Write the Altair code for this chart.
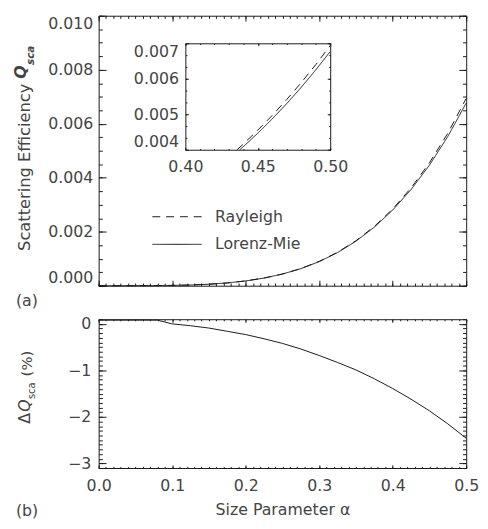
import altair as alt
import pandas as pd

# ---------------- data ----------------
alpha_main = [0.0, 0.025, 0.05, 0.075, 0.1, 0.125, 0.15, 0.175, 0.2, 0.225, 0.25,
              0.275, 0.3, 0.325, 0.35, 0.375, 0.4, 0.425, 0.45, 0.475, 0.5]
rayleigh_main = [0.0, 0.00000004, 0.0000007, 0.0000035, 0.0000111, 0.0000271, 0.0000562,
                 0.0001041, 0.0001776, 0.0002845, 0.0004336, 0.0006348, 0.0008991,
                 0.0012384, 0.0016654, 0.0021950, 0.0028416, 0.0036214, 0.0045517,
                 0.0056507, 0.0069375]
mie_main = [0.0, 0.00000004, 0.0000007, 0.0000035, 0.0000111, 0.0000271, 0.0000561,
            0.0001039, 0.0001772, 0.0002836, 0.0004318, 0.0006314, 0.0008929,
            0.0012280, 0.0016489, 0.0021691, 0.0028024, 0.0035624, 0.0044657,
            0.0055281, 0.0067668]

inset_alpha_r = [0.4357, 0.44, 0.45, 0.46, 0.47, 0.48, 0.49, 0.50]
inset_rayleigh = [0.0040, 0.0041603, 0.0045517, 0.0049700, 0.0054165, 0.0058923, 0.0063989, 0.0069375]
inset_alpha_m = [0.4376, 0.44, 0.45, 0.46, 0.47, 0.48, 0.49, 0.50]
inset_mie = [0.0040, 0.0040864, 0.0044657, 0.0048706, 0.0053022, 0.0057609, 0.0062492, 0.0067668]

delta_alpha = [0.0, 0.02, 0.04, 0.06, 0.08, 0.10, 0.125, 0.15, 0.175, 0.20, 0.225, 0.25,
               0.275, 0.30, 0.325, 0.35, 0.375, 0.40, 0.425, 0.45, 0.475, 0.50]
delta_pct = [0.08, 0.08, 0.08, 0.08, 0.08, 0.0, -0.04, -0.09, -0.16, -0.23, -0.32, -0.42,
             -0.54, -0.68, -0.83, -0.99, -1.18, -1.39, -1.62, -1.87, -2.15, -2.46]

series_names = ["Rayleigh", "Lorenz-Mie"]

x_major = [0.0, 0.1, 0.2, 0.3, 0.4, 0.5]
x_minor = [round(i * 0.01, 2) for i in range(51)]
q_major = [0.0, 0.002, 0.004, 0.006, 0.008, 0.010]
q_minor = [round(i * 0.0005, 4) for i in range(21)]
in_x_major = [0.40, 0.45, 0.50]
in_x_minor = [round(0.40 + i * 0.01, 2) for i in range(11)]
in_y_major = [0.004, 0.005, 0.006, 0.007]
in_y_minor = [round(0.004 + i * 0.001 / 3, 6) for i in range(10)]
d_major = [0, -1, -2, -3]
d_minor = [round(0.1 - i * 0.1, 1) for i in range(33)]

# ---------------- style ----------------
INK = "#1a1a1a"
TXT = "#444444"
FONT = "DejaVu Sans"
W, H1, H2 = 373, 274, 151
IN_X0, IN_X1, IN_Y0, IN_Y1 = 88, 235, 136, 28

top_df = pd.DataFrame({
    "a": alpha_main + alpha_main,
    "q": rayleigh_main + mie_main,
    "series": [series_names[0]] * len(alpha_main) + [series_names[1]] * len(alpha_main),
})
inset_df = pd.DataFrame({
    "a": inset_alpha_r + inset_alpha_m,
    "q": inset_rayleigh + inset_mie,
    "series": [series_names[0]] * len(inset_alpha_r) + [series_names[1]] * len(inset_alpha_m),
})
bot_df = pd.DataFrame({"a": delta_alpha, "d": delta_pct})

xs_main = alt.Scale(domain=[0, 0.5], nice=False, zero=False)
ys_top = alt.Scale(domain=[0, 0.01], nice=False, zero=False)
xs_in = alt.Scale(domain=[0.4, 0.5], range=[IN_X0, IN_X1], nice=False, zero=False)
ys_in = alt.Scale(domain=[0.004, 0.007], range=[IN_Y0, IN_Y1], nice=False, zero=False)
ys_bot = alt.Scale(domain=[-3.1, 0.1], nice=False, zero=False)

dash_scale = alt.Scale(domain=series_names, range=[[8, 6], [1, 0]])
legend = alt.Legend(orient="none", legendX=71.5, legendY=196, title=None,
                    symbolType="M-5,0H5", symbolSize=100, symbolStrokeWidth=1,
                    symbolStrokeColor=INK, labelOffset=30.5, rowPadding=12, padding=0,
                    labelFont=FONT, labelFontSize=16, labelColor=TXT)


def tick_axis(orient, offset, values, size, domain=False):
    return alt.Axis(orient=orient, offset=offset, values=values, labels=False, ticks=True,
                    tickSize=size, tickWidth=1, tickColor=INK, domain=domain,
                    domainColor=INK, domainWidth=1, grid=False, title=None)


def label_axis(orient, offset, values, fmt, pad, flush=False, title=None):
    return alt.Axis(orient=orient, offset=offset, values=values, format=fmt, labels=True,
                    ticks=False, tickSize=0, domain=True, domainColor=INK, domainWidth=1,
                    grid=False, labelFlush=flush, labelPadding=pad, title=title,
                    labelFont=FONT, labelFontSize=16, labelColor=TXT)


def axis_layer(df, xf, yf, xs, ys, xaxis, yaxis):
    return alt.Chart(df).mark_point(opacity=0).encode(
        x=alt.X(xf, scale=xs, axis=xaxis),
        y=alt.Y(yf, scale=ys, axis=yaxis),
    )


def text_layer(txt, x, y, size=16, style="normal", weight="normal", angle=0,
               align="left", baseline="middle"):
    return alt.Chart(pd.DataFrame({"t": [txt]})).mark_text(
        font=FONT, fontSize=size, fontStyle=style, fontWeight=weight, angle=angle,
        align=align, baseline=baseline, color=TXT
    ).encode(text="t:N", x=alt.value(x), y=alt.value(y))


# ---------------- top panel ----------------
main_lines = alt.Chart(top_df).mark_line(color=INK, strokeWidth=1).encode(
    x=alt.X("a:Q", scale=xs_main, axis=tick_axis("top", -H1, x_major, 5.5, domain=True)),
    y=alt.Y("q:Q", scale=ys_top, axis=label_axis("left", 0, q_major, ".3f", 6, flush=True)),
    strokeDash=alt.StrokeDash("series:N", scale=dash_scale, legend=legend),
)
inset_lines = alt.Chart(inset_df).mark_line(color=INK, strokeWidth=1).encode(
    x=alt.X("a:Q", scale=xs_in,
            axis=label_axis("bottom", IN_Y0 - H1, in_x_major, ".2f", 9)),
    y=alt.Y("q:Q", scale=ys_in,
            axis=label_axis("left", -IN_X0, in_y_major, ".3f", 7, flush=True)),
    strokeDash=alt.StrokeDash("series:N", scale=dash_scale, legend=legend),
)

top_layers = [
    main_lines,
    axis_layer(top_df, "a:Q", "q:Q", xs_main, ys_top,
               tick_axis("top", -H1, x_minor, 2.7),
               tick_axis("right", -W, q_major, 7.5)),
    axis_layer(top_df, "a:Q", "q:Q", xs_main, ys_top,
               tick_axis("bottom", -H1, x_major, 5.5, domain=True),
               tick_axis("right", -W, q_minor, 3.7)),
    axis_layer(top_df, "a:Q", "q:Q", xs_main, ys_top,
               tick_axis("bottom", -H1, x_minor, 2.7),
               tick_axis("left", -W, q_major, 7.5, domain=True)),
    axis_layer(top_df, "a:Q", "q:Q", xs_main, ys_top,
               None,
               tick_axis("left", -W, q_minor, 3.7)),
    inset_lines,
    axis_layer(inset_df, "a:Q", "q:Q", xs_in, ys_in,
               tick_axis("top", -IN_Y0, in_x_major, 2.4),
               tick_axis("right", IN_X0 - W, in_y_major, 3.0)),
    axis_layer(inset_df, "a:Q", "q:Q", xs_in, ys_in,
               tick_axis("top", -IN_Y0, in_x_minor, 1.2),
               tick_axis("right", IN_X0 - W, in_y_minor, 1.5)),
    axis_layer(inset_df, "a:Q", "q:Q", xs_in, ys_in,
               tick_axis("bottom", IN_Y1 - H1, in_x_major, 2.4, domain=True),
               tick_axis("left", -IN_X1, in_y_major, 3.0, domain=True)),
    axis_layer(inset_df, "a:Q", "q:Q", xs_in, ys_in,
               tick_axis("bottom", IN_Y1 - H1, in_x_minor, 1.2),
               tick_axis("left", -IN_X1, in_y_minor, 1.5)),
    text_layer("(a)", -84, 290),
    text_layer("Scattering Efficiency", -70, 69, size=16.5, angle=270,
               align="right", baseline="alphabetic"),
    text_layer("Q", -74, 64, size=16, style="italic", weight="bold", angle=270,
               baseline="alphabetic"),
    text_layer("sca", -66, 50, size=10.5, style="italic", weight="bold", angle=270,
               baseline="alphabetic"),
]

top = alt.layer(*top_layers).resolve_scale(
    x="independent", y="independent"
).resolve_axis(x="independent", y="independent").properties(width=W, height=H1)

# ---------------- bottom panel ----------------
delta_line = alt.Chart(bot_df).mark_line(color=INK, strokeWidth=1).encode(
    x=alt.X("a:Q", scale=xs_main,
            axis=alt.Axis(orient="bottom", values=x_major, format=".1f", labels=True,
                          ticks=False, tickSize=0, domain=True, domainColor=INK,
                          grid=False, labelFlush=False, labelPadding=10, labelFont=FONT,
                          labelFontSize=16, labelColor=TXT, title="Size Parameter α",
                          titleFont=FONT, titleFontSize=16, titleFontWeight="normal",
                          titleColor=TXT, titlePadding=8)),
    y=alt.Y("d:Q", scale=ys_bot, axis=label_axis("left", 0, d_major, "d", 8)),
)

bot_layers = [
    delta_line,
    axis_layer(bot_df, "a:Q", "d:Q", xs_main, ys_bot,
               tick_axis("top", -H2, x_major, 3.2),
               tick_axis("right", -W, d_major, 7.5)),
    axis_layer(bot_df, "a:Q", "d:Q", xs_main, ys_bot,
               tick_axis("top", -H2, x_minor, 1.6),
               tick_axis("right", -W, d_minor, 3.7)),
    axis_layer(bot_df, "a:Q", "d:Q", xs_main, ys_bot,
               tick_axis("bottom", -H2, x_major, 3.2, domain=True),
               tick_axis("left", -W, d_major, 7.5, domain=True)),
    axis_layer(bot_df, "a:Q", "d:Q", xs_main, ys_bot,
               tick_axis("bottom", -H2, x_minor, 1.6),
               tick_axis("left", -W, d_minor, 3.7)),
    text_layer("(b)", -84, 195),
    text_layer("Δ", -69.5, 106, size=16, angle=270, baseline="alphabetic"),
    text_layer("Q", -69.5, 94, size=16, style="italic", angle=270, baseline="alphabetic"),
    text_layer("sca", -65, 81, size=10, angle=270, baseline="alphabetic"),
    text_layer("(%)", -68, 58, size=15, angle=270, baseline="alphabetic"),
]

bottom = alt.layer(*bot_layers).resolve_axis(
    x="independent", y="independent"
).properties(width=W, height=H2)

chart = alt.vconcat(top, bottom, spacing=34, bounds="flush").properties(
    padding={"left": 4, "top": 3, "right": 0, "bottom": 2}
).configure_view(stroke="transparent")

chart.save("out.html", embed_options={"renderer": "svg", "actions": False})
